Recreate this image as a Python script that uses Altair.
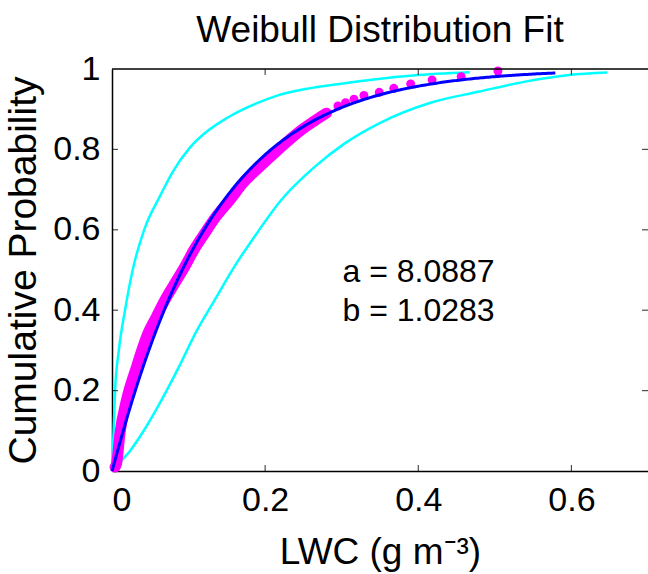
import altair as alt
import numpy as np
import pandas as pd

# Weibull fit parameters, F(x) = 1 - exp(-a * x^b)
a_param = 8.0887
b_param = 1.0283
fit_x_end = 0.579

# empirical cumulative probability of LWC: dense band
band_lwc = [0.004, 0.006, 0.0104, 0.019, 0.032, 0.039, 0.047, 0.058, 0.069, 0.082,
            0.095, 0.107, 0.121, 0.136, 0.154, 0.171, 0.193, 0.217, 0.245, 0.263, 0.280]
band_prob = [0.010, 0.019, 0.094, 0.177, 0.259, 0.301, 0.343, 0.384, 0.425, 0.467,
             0.508, 0.550, 0.591, 0.633, 0.674, 0.716, 0.757, 0.799, 0.845, 0.869, 0.890]
# sparse upper tail of the empirical distribution
tail_lwc = [0.295, 0.305, 0.316, 0.329, 0.349, 0.368, 0.390, 0.418, 0.456, 0.504]
tail_prob = [0.908, 0.916, 0.925, 0.934, 0.942, 0.952, 0.963, 0.973, 0.981, 0.995]

# bounding curves
upper_lwc = [0.000, 0.002, 0.004, 0.009, 0.017, 0.027, 0.042, 0.063, 0.078, 0.102,
             0.121, 0.150, 0.210, 0.306, 0.393, 0.467]
upper_prob = [0.000, 0.094, 0.200, 0.301, 0.400, 0.500, 0.600, 0.685, 0.740, 0.805,
              0.840, 0.878, 0.930, 0.965, 0.984, 0.992]
lower_lwc = [0.004, 0.0104, 0.0235, 0.0387, 0.0648, 0.0874, 0.109, 0.134, 0.158, 0.189,
             0.221, 0.265, 0.304, 0.349, 0.416, 0.480, 0.538, 0.597, 0.647]
lower_prob = [0.000, 0.020, 0.050, 0.092, 0.177, 0.259, 0.343, 0.425, 0.503, 0.591,
              0.674, 0.757, 0.815, 0.865, 0.916, 0.944, 0.968, 0.985, 0.991]

x_ticks = [0, 0.2, 0.4, 0.6]
y_ticks = [0, 0.2, 0.4, 0.6, 0.8, 1.0]
x_max = 0.7

FONT = "Liberation Sans, Arial, Helvetica, sans-serif"

rows = []


def add(series, xs, ys, txt=""):
    for xv, yv in zip(xs, ys):
        rows.append({"series": series, "lwc": xv, "prob": yv, "txt": txt})


fit_x = np.linspace(0.0, fit_x_end, 240)
fit_y = 1.0 - np.exp(-a_param * fit_x ** b_param)
add("fit", fit_x, fit_y)
add("band", band_lwc, band_prob)
add("tail", tail_lwc, tail_prob)
add("upper", upper_lwc, upper_prob)
add("lower", lower_lwc, lower_prob)
# frame: top edge and inward tick marks
add("frame_top", [0.0, x_max], [1.0, 1.0])
inner_x = [v for v in x_ticks if v > 0]
inner_y = [v for v in y_ticks if 0 < v < 1]
add("tick_v", inner_x + inner_x, [0.0] * len(inner_x) + [1.0] * len(inner_x))
add("tick_h", [0.0] * len(inner_y) + [x_max] * len(inner_y), inner_y + inner_y)
# parameter annotation
add("note", [0.301], [0.470], f"a = {a_param:.4f}")
add("note", [0.301], [0.373], f"b = {b_param:.4f}")

df = pd.DataFrame(rows)

x_axis = alt.Axis(
    values=x_ticks, format="~g", grid=False, ticks=False, tickSize=0,
    labelFont=FONT, labelFontSize=34, labelColor="black", labelPadding=12,
    domainColor="black", domainWidth=1.5,
    title="LWC (g m⁻³)", titleFont=FONT, titleFontSize=37, titleFontWeight="normal",
    titleColor="black", titleY=92, titleBaseline="alphabetic",
)
y_axis = alt.Axis(
    values=y_ticks, format="~g", grid=False, ticks=False, tickSize=0,
    labelFont=FONT, labelFontSize=34, labelColor="black", labelPadding=12,
    labelBaseline="middle",
    domainColor="black", domainWidth=1.5,
    title="Cumulative Probability", titleFont=FONT, titleFontSize=39,
    titleFontWeight="normal", titleColor="black",
    titleX=-77, titleY=201, titleAngle=270, titleBaseline="alphabetic",
)

base = alt.Chart(df).encode(
    x=alt.X("lwc:Q", scale=alt.Scale(domain=[0, x_max], nice=False, zero=True), axis=x_axis),
    y=alt.Y("prob:Q", scale=alt.Scale(domain=[0, 1], nice=False), axis=y_axis),
)


def only(name):
    return alt.datum.series == name


upper = base.transform_filter(only("upper")).mark_line(
    color="#00FFFF", strokeWidth=2.5, interpolate="monotone"
)
lower = base.transform_filter(only("lower")).mark_line(
    color="#00FFFF", strokeWidth=2.5, interpolate="monotone"
)
band = base.transform_filter(only("band")).mark_line(
    color="#FF00FF", strokeWidth=11, strokeCap="round", strokeJoin="round",
    interpolate="monotone",
)
dots = base.transform_filter(
    (alt.datum.series == "band") | (alt.datum.series == "tail")
).mark_circle(color="#FF00FF", size=80, opacity=1)
fit = base.transform_filter(only("fit")).mark_line(color="#0000FF", strokeWidth=3)
top = base.transform_filter(only("frame_top")).mark_line(color="black", strokeWidth=1.5)
ticks_v = base.transform_filter(only("tick_v")).mark_tick(
    orient="vertical", size=12, thickness=1.2, color="black", clip=True
)
ticks_h = base.transform_filter(only("tick_h")).mark_tick(
    orient="horizontal", size=12, thickness=1.2, color="black", clip=True
)
note = base.transform_filter(only("note")).mark_text(
    align="left", baseline="alphabetic", font=FONT, fontSize=32, color="black"
).encode(text="txt:N")

chart = alt.layer(upper, lower, band, dots, fit, top, ticks_v, ticks_h, note).properties(
    width=536,
    height=402,
    autosize=alt.AutoSizeParams(type="none"),
    padding={"left": 112, "top": 69, "right": 0, "bottom": 103},
    background="white",
    title=alt.Title(
        "Weibull Distribution Fit", font=FONT, fontSize=37, fontWeight="normal",
        color="black", anchor="middle", offset=2,
    ),
).configure_view(stroke=None)

chart.save("out.html", embed_options={"renderer": "svg", "actions": False})
